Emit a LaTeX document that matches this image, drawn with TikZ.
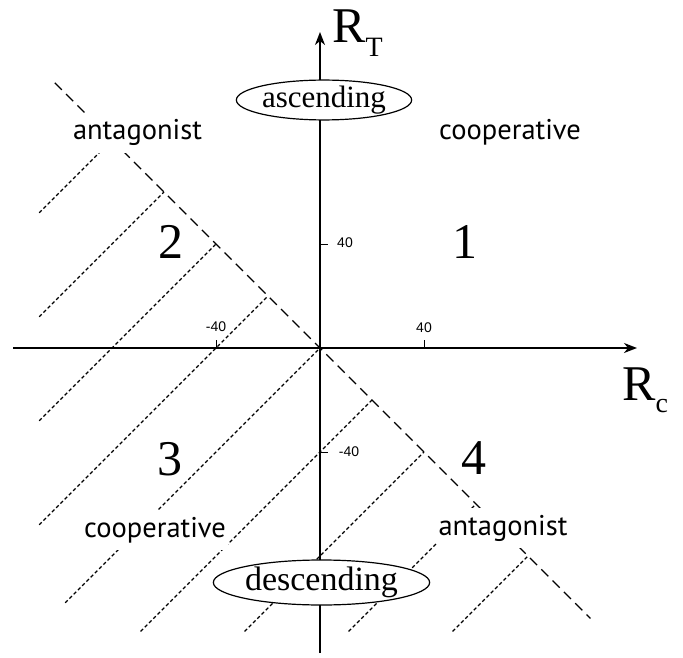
\documentclass[tikz,border=0pt]{standalone}
\usepackage{fontspec}
\setmainfont{Liberation Serif}
\newfontfamily\labfont{PT Sans}
\newfontfamily\tickfont{Liberation Sans}
\usetikzlibrary{arrows.meta,shapes.geometric}
\begin{document}
\begin{tikzpicture}[x=1pt,y=-1pt,
  axis/.style={line width=1.6pt,-{Stealth[length=13pt,width=10pt,inset=4pt]}},
  tickmark/.style={line width=1pt},
  divider/.style={line width=1.3pt,dash pattern=on 10pt off 6pt},
  hatch/.style={line width=1.2pt,dash pattern=on 3.5pt off 2.5pt},
  region/.style={font=\labfont\fontsize{28.5}{28.5}\selectfont,fill=white,inner xsep=2pt,inner ysep=7pt,anchor=base},
  quad/.style={font=\fontsize{50}{50}\selectfont,anchor=base,inner sep=0pt},
  axlab/.style={anchor=base west,inner sep=0pt},
  dirbox/.style={ellipse,draw,line width=1.2pt,fill=white,inner sep=0pt},
  ticklab/.style={font=\tickfont\fontsize{14}{14}\selectfont,inner sep=1pt}
]
\useasboundingbox (0,0) rectangle (683,658);

% data frame: origin at the crossing of the axes, 2.6pt per unit
\begin{scope}[shift={(320,348)},x=2.6pt,y=2.6pt]
  \foreach \c/\xo [count=\i] in {160/-108,120/-108,80/-108,40/-108,0/-98,-40/-69,-80/-29,-120/11,-160/51}{
    \coordinate (h\i a) at (\xo,{\xo+\c});
    \coordinate (h\i b) at ({-\c/2},{\c/2});
    \draw[hatch] (h\i a) -- (h\i b);
  }
  \coordinate (dA) at (-102,102);
  \coordinate (dB) at (104,-104);
  \draw[divider] (dA) -- (dB);
\end{scope}

% axes
\coordinate (xl) at (13,348);
\coordinate (xr) at (637,348);
\coordinate (yb) at (320,653);
\coordinate (yt) at (320,32);
\draw[axis] (xl) -- (xr);
\draw[axis] (yb) -- (yt);

% ticks
\coordinate (tx1a) at (216,348); \coordinate (tx1b) at (216,340);
\coordinate (tx2a) at (424,348); \coordinate (tx2b) at (424,340);
\coordinate (ty1a) at (320,244); \coordinate (ty1b) at (328,244);
\coordinate (ty2a) at (320,452); \coordinate (ty2b) at (328,452);
\draw[tickmark] (tx1a) -- (tx1b);
\draw[tickmark] (tx2a) -- (tx2b);
\draw[tickmark] (ty1a) -- (ty1b);
\draw[tickmark] (ty2a) -- (ty2b);
\node[ticklab] (lx1) at (216,327) {-40};
\node[ticklab] (lx2) at (424,328) {40};
\node[ticklab] (ly1) at (345,243) {40};
\node[ticklab] (ly2) at (349,452) {-40};

% axis names
\node[axlab] (RT) at (332,43) {\fontsize{50}{50}\selectfont R\raisebox{-14pt}{\fontsize{28}{28}\selectfont T}};
\node[axlab] (Rc) at (622,400) {\fontsize{50}{50}\selectfont R\raisebox{-12pt}{\fontsize{28}{28}\selectfont c}};

% quadrant numbers
\node[quad] (q1) at (465,258) {1};
\node[quad] (q2) at (170.5,258) {2};
\node[quad] (q3) at (170,475) {3};
\node[quad] (q4) at (474,474) {4};

% region labels
\node[region] (antTL) at (137.5,140) {antagonist};
\node[region] (coopTR) at (510,140) {cooperative};
\node[region] (coopBL) at (155,537) {cooperative};
\node[region] (antBR) at (503,535) {antagonist};

% directions
\node[dirbox,minimum width=136pt,minimum height=35pt] (asc) at (324,100) {\fontsize{31}{31}\selectfont ascending};
\node[dirbox,minimum width=197pt,minimum height=45pt] (desc) at (321.5,582.5) {\fontsize{34}{34}\selectfont descending};
\end{tikzpicture}
\end{document}
